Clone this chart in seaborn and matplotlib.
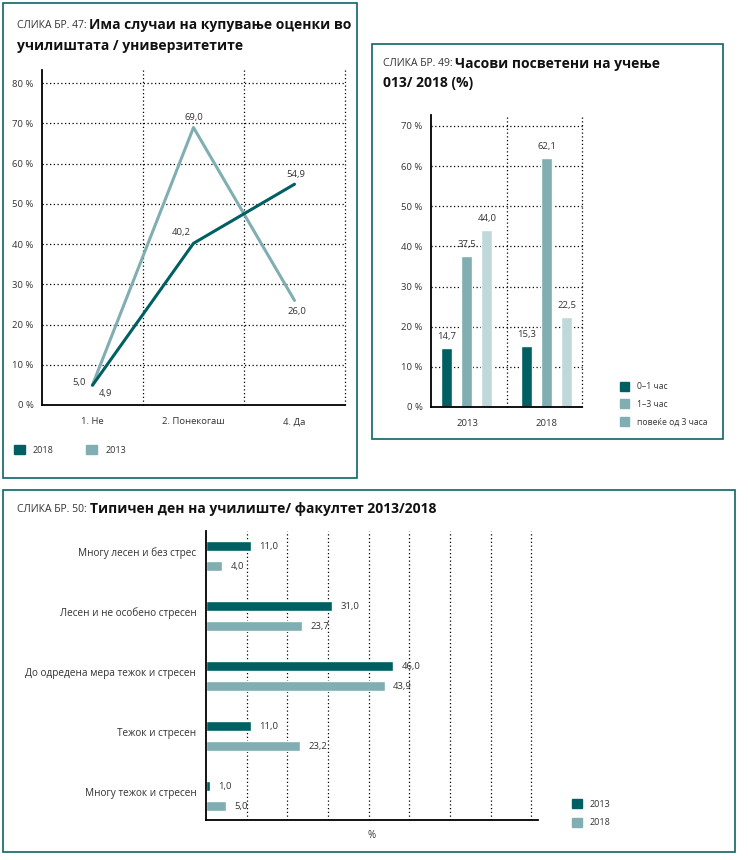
import seaborn as sns
import pandas as pd
import matplotlib.pyplot as plt
from matplotlib.patches import Rectangle, Patch
from matplotlib.text import Annotation

# ---- data ----
p47_answers = ["1. Не", "2. Понекогаш", "4. Да"]
p47_2018 = [4.9, 40.2, 54.9]
p47_2013 = [5.0, 69.0, 26.0]

p49_years = ["2013", "2018"]
p49_groups = ["0–1 час", "1–3 час", "повеќе од 3 часа"]
p49_values = {
    "0–1 час": [14.7, 15.3],
    "1–3 час": [37.5, 62.1],
    "повеќе од 3 часа": [44.0, 22.5],
}

p50_levels = ["Многу лесен и без стрес", "Лесен и не особено стресен",
              "До одредена мера тежок и стресен", "Тежок и стресен",
              "Многу тежок и стресен"]
p50_2013 = [11.0, 31.0, 46.0, 11.0, 1.0]
p50_2018 = [4.0, 23.7, 43.9, 23.2, 5.0]

DARK = "#005f62"
MID = "#80aeb2"
LIGHT = "#c1d8da"
FRAME = "#0d6566"
TXT = "#333333"

sns.set_theme(style="white")
plt.rcParams["font.family"] = ["Open Sans", "DejaVu Sans"]

W, H = 748, 860
fig = plt.figure(figsize=(W / 100, H / 100), dpi=100)


def px_axes(l, t, r, b):
    return fig.add_axes([l / W, 1 - b / H, (r - l) / W, (b - t) / H])


def frame(l, t, r, b):
    fig.patches.append(Rectangle((l / W, 1 - b / H), (r - l) / W, (b - t) / H,
                                 transform=fig.transFigure, fill=False,
                                 edgecolor=FRAME, lw=1.2))


def title(x, y, prefix, text):
    t1 = fig.text(x / W, 1 - y / H, prefix, fontsize=7.5, color=TXT, va="center")
    fig.add_artist(Annotation(text, xy=(1, 0.5), xycoords=t1, xytext=(2, 0),
                              textcoords="offset points", va="center", fontsize=10,
                              fontweight="bold", color="#111111"))


def style_axes(ax):
    for s in ["top", "right"]:
        ax.spines[s].set_visible(False)
    for s in ["left", "bottom"]:
        ax.spines[s].set_color("black")
        ax.spines[s].set_linewidth(1.3)
        ax.spines[s].set_zorder(5)
    ax.tick_params(length=0, labelsize=6.8, labelcolor=TXT)
    ax.set_xlabel("")
    ax.set_ylabel("")


dot = dict(color="black", lw=0.9, ls=(0, (1, 2)), zorder=0, clip_on=False)
fmt = lambda v: f"{v:.1f}".replace(".", ",")

# ---- panel 47 ----
frame(3, 3, 357, 478)
title(17, 25, "СЛИКА БР. 47:", "Има случаи на купување оценки во")
fig.text(17 / W, 1 - 46 / H, "училиштата / универзитетите", fontsize=10,
         fontweight="bold", color="#111111", va="center")

df47 = pd.DataFrame({
    "answer": p47_answers * 2,
    "year": ["2013"] * 3 + ["2018"] * 3,
    "value": p47_2013 + p47_2018,
})
ax1 = px_axes(42, 70, 345, 405)
sns.lineplot(data=df47, x="answer", y="value", hue="year",
             palette={"2013": MID, "2018": DARK}, linewidth=2.2,
             legend=False, sort=False, ax=ax1)
ax1.set_xlim(-0.5, 2.5)
ax1.set_ylim(0, 83.3)
ax1.set_yticks(range(0, 81, 10))
ax1.set_yticklabels([f"{v} %" for v in range(0, 81, 10)])
for v in range(10, 81, 10):
    ax1.axhline(v, **dot)
for v in [0.5, 1.5, 2.5]:
    ax1.axvline(v, **dot)
style_axes(ax1)
ax1.tick_params(axis="y", pad=6)
ax1.tick_params(axis="x", pad=9)
off18 = [(9, -6), (-9, 8), (1, 7)]
off13 = [(-10, 2), (0, 7), (2, -8)]
for i, v in enumerate(p47_2018):
    ax1.annotate(fmt(v), (i, v), xytext=off18[i], textcoords="offset points",
                 ha="center", va="center", fontsize=6.8, color=TXT)
for i, v in enumerate(p47_2013):
    ax1.annotate(fmt(v), (i, v), xytext=off13[i], textcoords="offset points",
                 ha="center", va="center", fontsize=6.8, color=TXT)
ax1.legend(handles=[Patch(color=DARK, label="2018"), Patch(color=MID, label="2013")],
           loc="center left", bbox_to_anchor=(14 / W, 1 - 450 / H),
           bbox_transform=fig.transFigure, ncol=2, frameon=False, fontsize=6.5,
           handlelength=1.2, handleheight=1.2, handletextpad=0.9,
           columnspacing=3.6, borderpad=0, borderaxespad=0, labelcolor=TXT)

# ---- panel 49 ----
frame(372, 44, 723, 439)
title(383, 64, "СЛИКА БР. 49:", "Часови посветени на учење")
fig.text(383 / W, 1 - 83 / H, "013/ 2018 (%)", fontsize=10,
         fontweight="bold", color="#111111", va="center")

rows = []
for g in p49_groups:
    for y, v in zip(p49_years, p49_values[g]):
        rows.append({"year": y, "hours": g, "value": v})
df49 = pd.DataFrame(rows)
ax2 = px_axes(431, 115, 582, 407)
sns.barplot(data=df49, x="year", y="value", hue="hours", hue_order=p49_groups,
            palette=[DARK, MID, LIGHT], width=0.75, gap=0.45, legend=False,
            saturation=1, ax=ax2, zorder=3)
ax2.set_xlim(-0.45, 1.44)
ax2.set_ylim(0, 72.7)
ax2.set_yticks(range(0, 71, 10))
ax2.set_yticklabels([f"{v} %" for v in range(0, 71, 10)])
for v in range(10, 71, 10):
    ax2.axhline(v, **dot)
for v in [0.5, 1.44]:
    ax2.axvline(v, **dot)
style_axes(ax2)
ax2.tick_params(axis="y", pad=6)
ax2.tick_params(axis="x", pad=9)
for cont, g in zip(ax2.containers, p49_groups):
    ax2.bar_label(cont, labels=[fmt(v) for v in p49_values[g]], padding=5,
                  fontsize=6.8, color=TXT)
ax2.legend(handles=[Patch(color=DARK, label=p49_groups[0]),
                    Patch(color=MID, label=p49_groups[1]),
                    Patch(color=MID, label=p49_groups[2])],
           loc="upper left", bbox_to_anchor=(620 / W, 1 - 382 / H),
           bbox_transform=fig.transFigure, frameon=False, fontsize=6.2,
           handlelength=1.1, handleheight=1.2, handletextpad=0.9,
           labelspacing=0.95, borderpad=0, borderaxespad=0, labelcolor=TXT)

# ---- panel 50 ----
frame(3, 490, 735, 852)
title(17, 509, "СЛИКА БР. 50:", "Типичен ден на училиште/ факултет 2013/2018")

df50 = pd.DataFrame({
    "level": p50_levels * 2,
    "year": ["2013"] * 5 + ["2018"] * 5,
    "value": p50_2013 + p50_2018,
})
ax3 = px_axes(206, 531, 538, 820)
sns.barplot(data=df50, y="level", x="value", hue="year", orient="h",
            palette={"2013": DARK, "2018": MID}, width=0.667, gap=0.5,
            legend=False, saturation=1, ax=ax3, zorder=3)
ax3.set_xlim(0, 81.6)
ax3.set_ylim(4.4, -0.42)
ax3.set_xticks([])
for v in range(10, 81, 10):
    ax3.axvline(v, **dot)
style_axes(ax3)
ax3.tick_params(axis="y", pad=7, labelsize=7.2)
for lab in ax3.get_yticklabels():
    lab.set_va("baseline")
ax3.set_xlabel("%", fontsize=7, color=TXT, labelpad=7)
for cont, vals in zip(ax3.containers, [p50_2013, p50_2018]):
    ax3.bar_label(cont, labels=[fmt(v) for v in vals], padding=6,
                  fontsize=6.8, color=TXT)
ax3.legend(handles=[Patch(color=DARK, label="2013"), Patch(color=MID, label="2018")],
           loc="upper left", bbox_to_anchor=(572 / W, 1 - 799 / H),
           bbox_transform=fig.transFigure, frameon=False, fontsize=6.5,
           handlelength=1.1, handleheight=1.2, handletextpad=0.9,
           labelspacing=1.0, borderpad=0, borderaxespad=0, labelcolor=TXT)

fig.savefig("out.png", dpi=100)
